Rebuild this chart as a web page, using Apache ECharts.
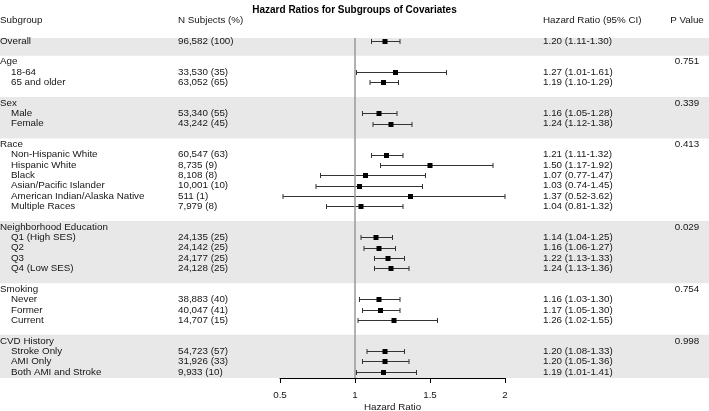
<!DOCTYPE html>
<html>
<head>
<meta charset="utf-8">
<script src="https://cdn.jsdelivr.net/npm/echarts@6/dist/echarts.min.js"></script>
<style>
  html, body { margin: 0; padding: 0; background: #fff; }
  #chart { width: 709px; height: 411px; }
</style>
</head>
<body>
<div id="chart"></div>
<script>
// one entry per table row, '' marks a spacer row between groups
const subgroups = [
  'Overall', '',
  'Age', '18-64', '65 and older', '',
  'Sex', 'Male', 'Female', '',
  'Race', 'Non-Hispanic White', 'Hispanic White', 'Black', 'Asian/Pacific Islander', 'American Indian/Alaska Native', 'Multiple Races', '',
  'Neighborhood Education', 'Q1 (High SES)', 'Q2', 'Q3', 'Q4 (Low SES)', '',
  'Smoking', 'Never', 'Former', 'Current', '',
  'CVD History', 'Stroke Only', 'AMI Only', 'Both AMI and Stroke'
];
const nSubjects = [
  '96,582 (100)', '',
  '', '33,530 (35)', '63,052 (65)', '',
  '', '53,340 (55)', '43,242 (45)', '',
  '', '60,547 (63)', '8,735 (9)', '8,108 (8)', '10,001 (10)', '511 (1)', '7,979 (8)', '',
  '', '24,135 (25)', '24,142 (25)', '24,177 (25)', '24,128 (25)', '',
  '', '38,883 (40)', '40,047 (41)', '14,707 (15)', '',
  '', '54,723 (57)', '31,926 (33)', '9,933 (10)'
];
const hr = [
  1.20, null,
  null, 1.27, 1.19, null,
  null, 1.16, 1.24, null,
  null, 1.21, 1.50, 1.07, 1.03, 1.37, 1.04, null,
  null, 1.14, 1.16, 1.22, 1.24, null,
  null, 1.16, 1.17, 1.26, null,
  null, 1.20, 1.20, 1.19
];
const ciLow = [
  1.11, null,
  null, 1.01, 1.10, null,
  null, 1.05, 1.12, null,
  null, 1.11, 1.17, 0.77, 0.74, 0.52, 0.81, null,
  null, 1.04, 1.06, 1.13, 1.13, null,
  null, 1.03, 1.05, 1.02, null,
  null, 1.08, 1.05, 1.01
];
const ciHigh = [
  1.30, null,
  null, 1.61, 1.29, null,
  null, 1.28, 1.38, null,
  null, 1.32, 1.92, 1.47, 1.45, 3.62, 1.32, null,
  null, 1.25, 1.27, 1.33, 1.36, null,
  null, 1.30, 1.30, 1.55, null,
  null, 1.33, 1.36, 1.41
];
const pValues = [
  '', '',
  '0.751', '', '', '',
  '0.339', '', '', '',
  '0.413', '', '', '', '', '', '', '',
  '0.029', '', '', '', '', '',
  '0.754', '', '', '', '',
  '0.998', '', '', ''
];
const headers = ['Subgroup', 'N Subjects (%)', 'Hazard Ratio (95% CI)', 'P Value'];
const xTicks = [0.5, 1, 1.5, 2];

const FONT = 'Liberation Sans, Arial, sans-serif';
const FS = 9.8;
const TXT = '#161616';
const BAND = '#e8e8e8';

const yMin = -0.3;
const yMax = 32.6;
const colX = [0, 178, 543, 687];
const indent = 11;

const fmt = (v) => v.toFixed(2);

// text cells
const cells = [];
headers.forEach((h, c) => cells.push({ x: colX[c], row: -2, text: h, align: c === 3 ? 'center' : 'left' }));
subgroups.forEach((s, i) => {
  if (!s) return;
  const sub = hr[i] != null && i > 0;
  cells.push({ x: colX[0] + (sub ? indent : 0), row: i, text: s, align: 'left' });
  if (nSubjects[i]) cells.push({ x: colX[1], row: i, text: nSubjects[i], align: 'left' });
  if (hr[i] != null) {
    cells.push({ x: colX[2], row: i, text: fmt(hr[i]) + ' (' + fmt(ciLow[i]) + '-' + fmt(ciHigh[i]) + ')', align: 'left' });
  }
  if (pValues[i]) cells.push({ x: colX[3], row: i, text: pValues[i], align: 'center' });
});

// alternating group bands
const edges = [yMin];
subgroups.forEach((s, i) => { if (s === '') edges.push(i + 0.42); });
edges.push(yMax);
const bands = [];
for (let k = 0; k < edges.length - 1; k++) {
  if (k % 2 === 0) bands.push([edges[k], edges[k + 1]]);
}

const ciData = [];
hr.forEach((v, i) => { if (v != null) ciData.push([v, i, ciLow[i], ciHigh[i]]); });

const chart = echarts.init(document.getElementById('chart'));
chart.setOption({
  animation: false,
  title: {
    text: 'Hazard Ratios for Subgroups of Covariates',
    left: 'center',
    top: 0,
    textStyle: { fontFamily: FONT, fontSize: 10, fontWeight: 'bold', color: '#000' }
  },
  grid: [
    { left: 0, right: 0, top: 38, bottom: 33, outerBoundsMode: 'none' },
    { left: 280, width: 225, top: 38, bottom: 33, outerBoundsMode: 'none' }
  ],
  xAxis: [
    { gridIndex: 0, type: 'value', min: 0, max: 709, show: false },
    {
      gridIndex: 1, type: 'value', min: 0.5, max: 2, interval: 0.5,
      position: 'bottom',
      axisLine: { show: true, onZero: false, lineStyle: { color: '#000', width: 1 } },
      axisTick: { show: true, length: 5, lineStyle: { color: '#000' } },
      axisLabel: {
        margin: 12, fontFamily: FONT, fontSize: FS, color: TXT,
        formatter: (v) => (xTicks.indexOf(v) >= 0 ? String(v) : '')
      },
      splitLine: { show: false },
      name: 'Hazard Ratio', nameLocation: 'middle', nameGap: 24,
      nameMoveOverlap: false,
      nameTextStyle: { fontFamily: FONT, fontSize: FS, color: TXT }
    }
  ],
  yAxis: [
    { gridIndex: 0, type: 'value', min: yMin, max: yMax, inverse: true, show: false },
    { gridIndex: 1, type: 'value', min: yMin, max: yMax, inverse: true, show: false }
  ],
  series: [
    {
      type: 'custom',
      xAxisIndex: 0, yAxisIndex: 0,
      silent: true, z: 0,
      data: bands,
      renderItem: (params, api) => {
        const cs = params.coordSys;
        const y0 = api.coord([0, api.value(0)])[1];
        const y1 = api.coord([0, api.value(1)])[1];
        return {
          type: 'rect',
          shape: { x: cs.x, y: y0, width: cs.width, height: y1 - y0 },
          style: { fill: BAND }
        };
      }
    },
    {
      type: 'custom',
      xAxisIndex: 0, yAxisIndex: 0,
      silent: true, z: 3,
      data: cells.map((c) => [c.x, c.row]),
      renderItem: (params, api) => {
        const c = cells[params.dataIndex];
        const p = api.coord([c.x, c.row]);
        return {
          type: 'text',
          x: p[0], y: p[1],
          style: {
            text: c.text, fill: TXT, font: FS + 'px ' + FONT,
            align: c.align, verticalAlign: 'middle'
          }
        };
      }
    },
    {
      type: 'custom',
      xAxisIndex: 1, yAxisIndex: 1,
      silent: true, z: 4,
      data: ciData,
      renderItem: (params, api) => {
        const clamp = (v) => Math.max(0.5, Math.min(2, v));
        const c = api.coord([api.value(0), api.value(1)]);
        const xl = api.coord([clamp(api.value(2)), api.value(1)])[0];
        const xh = api.coord([clamp(api.value(3)), api.value(1)])[0];
        const y = Math.round(c[1]) + 0.5;
        const ln = { stroke: '#333', lineWidth: 1 };
        return {
          type: 'group',
          children: [
            { type: 'line', shape: { x1: xl, y1: y, x2: xh, y2: y }, style: ln },
            { type: 'line', shape: { x1: xl, y1: y - 2.5, x2: xl, y2: y + 2.5 }, style: ln },
            { type: 'line', shape: { x1: xh, y1: y - 2.5, x2: xh, y2: y + 2.5 }, style: ln },
            { type: 'rect', shape: { x: c[0] - 2.5, y: y - 2.5, width: 5, height: 5 }, style: { fill: '#000' } }
          ]
        };
      },
      markLine: {
        silent: true, symbol: 'none', label: { show: false },
        lineStyle: { color: '#999', width: 1.5, type: 'solid' },
        data: [{ xAxis: 1 }]
      }
    }
  ]
});
</script>
</body>
</html>
